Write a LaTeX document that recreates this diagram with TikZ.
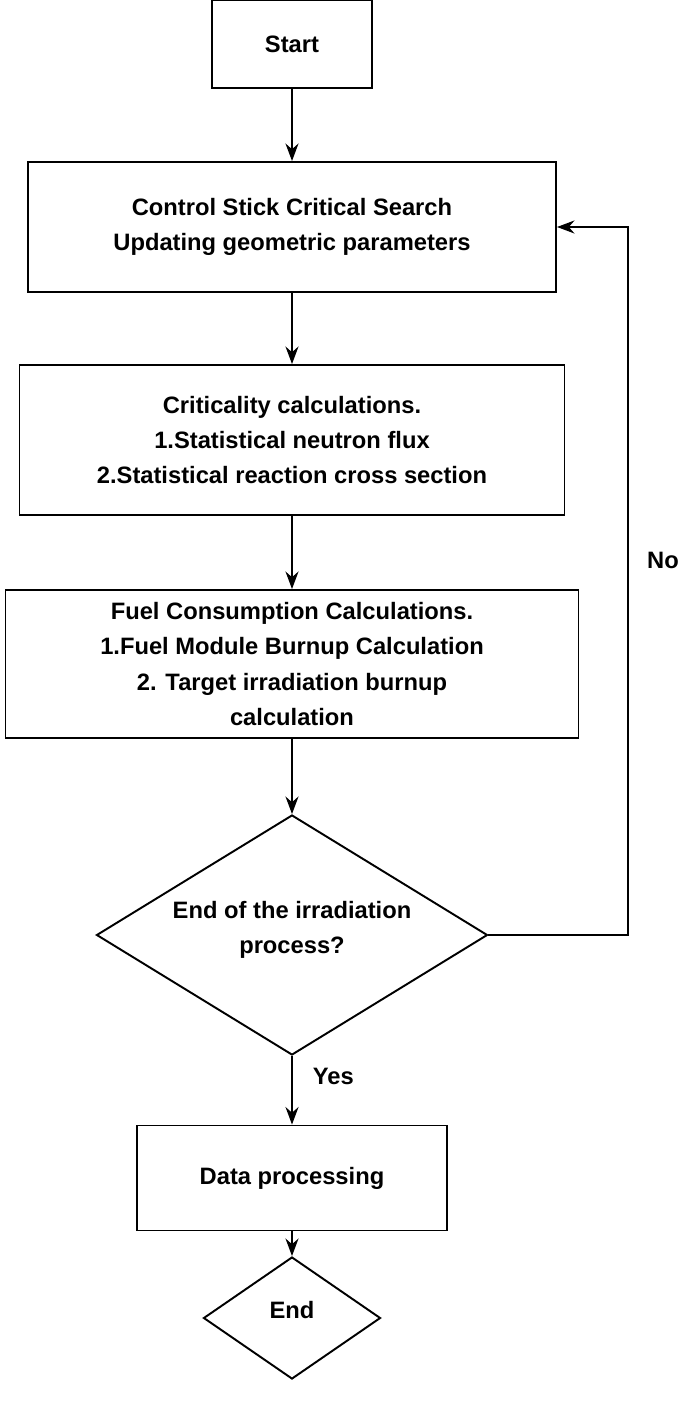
\documentclass[tikz,border=0pt]{standalone}
\usepackage{fontspec}
\setmainfont{Liberation Sans}
\usetikzlibrary{shapes.geometric, arrows.meta, positioning, calc}
\newcommand{\zerotext}[1]{\smash{\makebox[0pt]{\begin{tabular}{@{}c@{}}#1\end{tabular}}}}

\begin{document}
\begin{tikzpicture}[x=0.02cm, y=-0.02cm,
    every node/.style={font=\fontsize{13.5}{20}\selectfont\bfseries},
    process/.style={rectangle, draw=black, line width=1.1pt, align=center, inner sep=0pt},
    decision/.style={diamond, draw=black, line width=1.1pt, inner sep=0pt},
    arrow/.style={-{Stealth[length=3.5mm, width=2.6mm]}, line width=1.1pt},
    lbl/.style={font=\fontsize{13.5}{20}\selectfont\bfseries}
]
\useasboundingbox (0,0) rectangle (685,1409);

% Boxes
\node[process, minimum width=160*0.02cm, minimum height=88*0.02cm] (start) at (292,44) {Start};
\node[process, minimum width=528*0.02cm, minimum height=130*0.02cm] (search) at (292,227)
    {Control Stick Critical Search\\Updating geometric parameters};
\node[process, minimum width=545*0.02cm, minimum height=150*0.02cm] (crit) at (292,440)
    {Criticality calculations.\\1.Statistical neutron flux\\2.Statistical reaction cross section};
\node[process, minimum width=573*0.02cm, minimum height=148*0.02cm] (fuel) at (292,664)
    {Fuel Consumption Calculations.\\1.Fuel Module Burnup Calculation\\2. Target irradiation burnup\\calculation};
\node[decision, minimum width=391*0.02cm, minimum height=240*0.02cm] (check) at (292,935)
    {\zerotext{End of the irradiation\\process?}};
\node[process, minimum width=310*0.02cm, minimum height=105*0.02cm] (data) at (292,1178) {Data processing};
\node[decision, minimum width=177*0.02cm, minimum height=122*0.02cm] (end) at (292,1318) {\zerotext{End}};

% Connectors
\draw[arrow] (start) -- (search);
\draw[arrow] (search) -- (crit);
\draw[arrow] (crit) -- (fuel);
\draw[arrow] (fuel) -- (check);
\draw[arrow] (check) -- node[lbl, right=8pt, pos=0.3] {Yes} (data);
\draw[arrow] (data) -- (end);
\coordinate (loop) at (628,935);
\draw[arrow] (check.east) -- (loop) -- (628,227) -- (search.east);
\node[lbl] (no) at (663,560) {No};

\end{tikzpicture}
\end{document}
